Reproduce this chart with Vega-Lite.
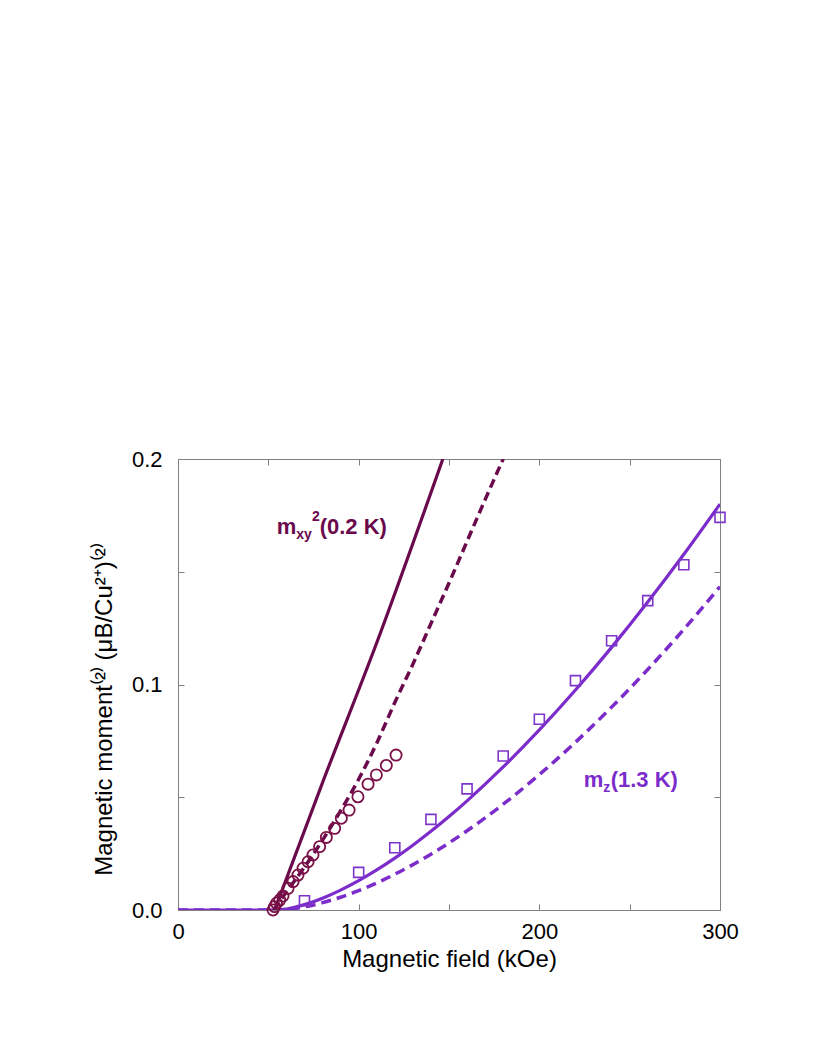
{
  "$schema": "https://vega.github.io/schema/vega-lite/v6.json",
  "width": 542,
  "height": 451,
  "autosize": "none",
  "padding": {"left": 178, "top": 459, "right": 102, "bottom": 154},
  "background": "white",
  "config": {
    "view": {"stroke": null},
    "font": "Liberation Sans",
    "axis": {
      "labelFont": "Liberation Sans",
      "titleFont": "Liberation Sans",
      "labelFontSize": 22,
      "titleFontSize": 24,
      "titleFontWeight": "normal",
      "labelColor": "black",
      "titleColor": "black",
      "domainColor": "#808080",
      "tickColor": "#808080",
      "grid": false,
      "tickSize": -6,
      "labelFlush": false,
      "labelOverlap": false
    }
  },
  "datasets": {
    "purpleSolid": [
      {"H": 0, "m": 0}, {"H": 55, "m": 0}, {"H": 60, "m": 0.00043}, {"H": 70, "m": 0.00237},
      {"H": 80, "m": 0.00524}, {"H": 90, "m": 0.00883}, {"H": 100, "m": 0.01302}, {"H": 110, "m": 0.01777},
      {"H": 120, "m": 0.02302}, {"H": 130, "m": 0.02874}, {"H": 140, "m": 0.03489}, {"H": 150, "m": 0.04145},
      {"H": 160, "m": 0.04841}, {"H": 180, "m": 0.06343}, {"H": 200, "m": 0.07984}, {"H": 220, "m": 0.09754},
      {"H": 240, "m": 0.11647}, {"H": 260, "m": 0.13655}, {"H": 280, "m": 0.15774}, {"H": 300, "m": 0.18}
    ],
    "purpleDash": [
      {"H": 0, "m": 0}, {"H": 55, "m": 0}, {"H": 60, "m": 0.00022}, {"H": 70, "m": 0.00139},
      {"H": 80, "m": 0.00325}, {"H": 90, "m": 0.00567}, {"H": 100, "m": 0.00861}, {"H": 120, "m": 0.01585},
      {"H": 140, "m": 0.02474}, {"H": 160, "m": 0.03513}, {"H": 180, "m": 0.04693}, {"H": 200, "m": 0.06004},
      {"H": 220, "m": 0.0744}, {"H": 240, "m": 0.08996}, {"H": 260, "m": 0.10666}, {"H": 280, "m": 0.1245},
      {"H": 300, "m": 0.1434}
    ],
    "maroonDash": [
      {"H": 53, "m": 0}, {"H": 60, "m": 0.008}, {"H": 70, "m": 0.019}, {"H": 80, "m": 0.031},
      {"H": 90, "m": 0.044}, {"H": 100, "m": 0.058}, {"H": 110, "m": 0.074}, {"H": 120, "m": 0.092},
      {"H": 130, "m": 0.109}, {"H": 140, "m": 0.127}, {"H": 150, "m": 0.145}, {"H": 160, "m": 0.1635},
      {"H": 170, "m": 0.182}, {"H": 180, "m": 0.2}
    ],
    "maroonSolid": [
      {"H": 53.5, "m": 0}, {"H": 80, "m": 0.0565}, {"H": 110, "m": 0.1185}, {"H": 146.6, "m": 0.2}
    ],
    "circles": [
      {"H": 52.6, "m": 0.0}, {"H": 53.5, "m": 0.0015}, {"H": 54.5, "m": 0.003}, {"H": 56.3, "m": 0.0044},
      {"H": 58.1, "m": 0.0062}, {"H": 60.9, "m": 0.0096}, {"H": 63.7, "m": 0.0126}, {"H": 66.4, "m": 0.0155},
      {"H": 69.2, "m": 0.0185}, {"H": 72.0, "m": 0.0214}, {"H": 74.7, "m": 0.0244}, {"H": 78.4, "m": 0.0281},
      {"H": 82.1, "m": 0.0322}, {"H": 86.7, "m": 0.0362}, {"H": 90.4, "m": 0.0407}, {"H": 94.7, "m": 0.0443},
      {"H": 99.6, "m": 0.0502}, {"H": 105.2, "m": 0.0558}, {"H": 109.8, "m": 0.0599}, {"H": 115.3, "m": 0.0641},
      {"H": 120.7, "m": 0.0687}
    ],
    "squares": [
      {"H": 70, "m": 0.0041}, {"H": 100, "m": 0.0167}, {"H": 120, "m": 0.0276}, {"H": 140, "m": 0.0402},
      {"H": 160, "m": 0.0537}, {"H": 180, "m": 0.0683}, {"H": 200, "m": 0.0846}, {"H": 220, "m": 0.1017},
      {"H": 240, "m": 0.1194}, {"H": 260, "m": 0.1372}, {"H": 280, "m": 0.1531}, {"H": 300, "m": 0.1741}
    ],
    "labelMain": [
      {"label": "mxy", "H": 54.6, "m": 0.1667, "t": "m"},
      {"label": "mxy", "H": 78.4, "m": 0.1667, "t": "(0.2 K)"},
      {"label": "mz", "H": 224.6, "m": 0.05455, "t": "m"},
      {"label": "mz", "H": 239.5, "m": 0.05455, "t": "(1.3 K)"}
    ],
    "labelSub": [
      {"label": "mxy", "H": 65.5, "m": 0.1667, "t": "xy"},
      {"label": "mz", "H": 235.4, "m": 0.05455, "t": "z"}
    ],
    "labelSup": [
      {"label": "mxy", "H": 74.2, "m": 0.1667, "t": "2"}
    ]
  },
  "resolve": {"axis": {"x": "independent", "y": "independent"}},
  "layer": [
    {
      "encoding": {
        "x": {
          "field": "H", "type": "quantitative",
          "scale": {"domain": [0, 300], "nice": false, "zero": false},
          "axis": {
            "orient": "bottom",
            "values": [0, 50, 100, 150, 200, 250, 300],
            "labelExpr": "datum.value % 100 === 0 ? format(datum.value, 'd') : ''",
            "labelPadding": 17,
            "title": "Magnetic field (kOe)",
            "titlePadding": 5
          }
        },
        "y": {
          "field": "m", "type": "quantitative",
          "scale": {"domain": [0, 0.2], "nice": false, "zero": false},
          "axis": {
            "orient": "left",
            "values": [0, 0.05, 0.1, 0.15, 0.2],
            "labelExpr": "(datum.value == 0 || datum.value == 0.1 || datum.value == 0.2) ? format(datum.value, '.1f') : ''",
            "labelPadding": 22,
            "title": "Magnetic moment⁽²⁾  (μB/Cu²⁺)⁽²⁾",
            "titlePadding": 15,
            "titleY": 250
          }
        }
      },
      "layer": [
        {"data": {"name": "purpleDash"}, "mark": {"type": "line", "color": "#7b2ccb", "strokeWidth": 3.5, "strokeDash": [10, 6], "interpolate": "monotone", "clip": true}},
        {"data": {"name": "purpleSolid"}, "mark": {"type": "line", "color": "#7b2ccb", "strokeWidth": 3.2, "interpolate": "monotone", "clip": true}},
        {"data": {"name": "maroonDash"}, "mark": {"type": "line", "color": "#6a0a4c", "strokeWidth": 3.5, "strokeDash": [9, 5], "interpolate": "monotone", "clip": true}},
        {"data": {"name": "maroonSolid"}, "mark": {"type": "line", "color": "#6a0a4c", "strokeWidth": 3.2, "interpolate": "monotone", "clip": true}},
        {"data": {"name": "circles"}, "mark": {"type": "point", "shape": "circle", "filled": false, "stroke": "#7a1046", "strokeWidth": 1.8, "size": 125, "opacity": 1}},
        {"data": {"name": "squares"}, "mark": {"type": "point", "shape": "square", "filled": false, "stroke": "#7d35c9", "strokeWidth": 1.6, "size": 100, "opacity": 1}},
        {"data": {"name": "labelMain"}, "mark": {"type": "text", "align": "left", "baseline": "alphabetic", "fontSize": 22, "fontWeight": "bold", "font": "Liberation Sans"},
         "encoding": {"text": {"field": "t"}, "color": {"field": "label", "type": "nominal", "scale": {"domain": ["mxy", "mz"], "range": ["#6a0a4c", "#7b2ccb"]}, "legend": null}}},
        {"data": {"name": "labelSub"}, "mark": {"type": "text", "align": "left", "baseline": "alphabetic", "fontSize": 14, "fontWeight": "bold", "font": "Liberation Sans", "dy": 5},
         "encoding": {"text": {"field": "t"}, "color": {"field": "label", "type": "nominal", "scale": {"domain": ["mxy", "mz"], "range": ["#6a0a4c", "#7b2ccb"]}, "legend": null}}},
        {"data": {"name": "labelSup"}, "mark": {"type": "text", "align": "left", "baseline": "alphabetic", "fontSize": 14, "fontWeight": "bold", "font": "Liberation Sans", "dy": -13},
         "encoding": {"text": {"field": "t"}, "color": {"field": "label", "type": "nominal", "scale": {"domain": ["mxy", "mz"], "range": ["#6a0a4c", "#7b2ccb"]}, "legend": null}}}
      ]
    },
    {
      "data": {"name": "squares"},
      "mark": {"type": "point", "opacity": 0},
      "encoding": {
        "x": {
          "field": "H", "type": "quantitative",
          "axis": {"orient": "top", "values": [0, 50, 100, 150, 200, 250, 300], "labels": false, "title": null}
        },
        "y": {
          "field": "m", "type": "quantitative",
          "axis": {"orient": "right", "values": [0, 0.05, 0.1, 0.15, 0.2], "labels": false, "title": null}
        }
      }
    }
  ]
}
